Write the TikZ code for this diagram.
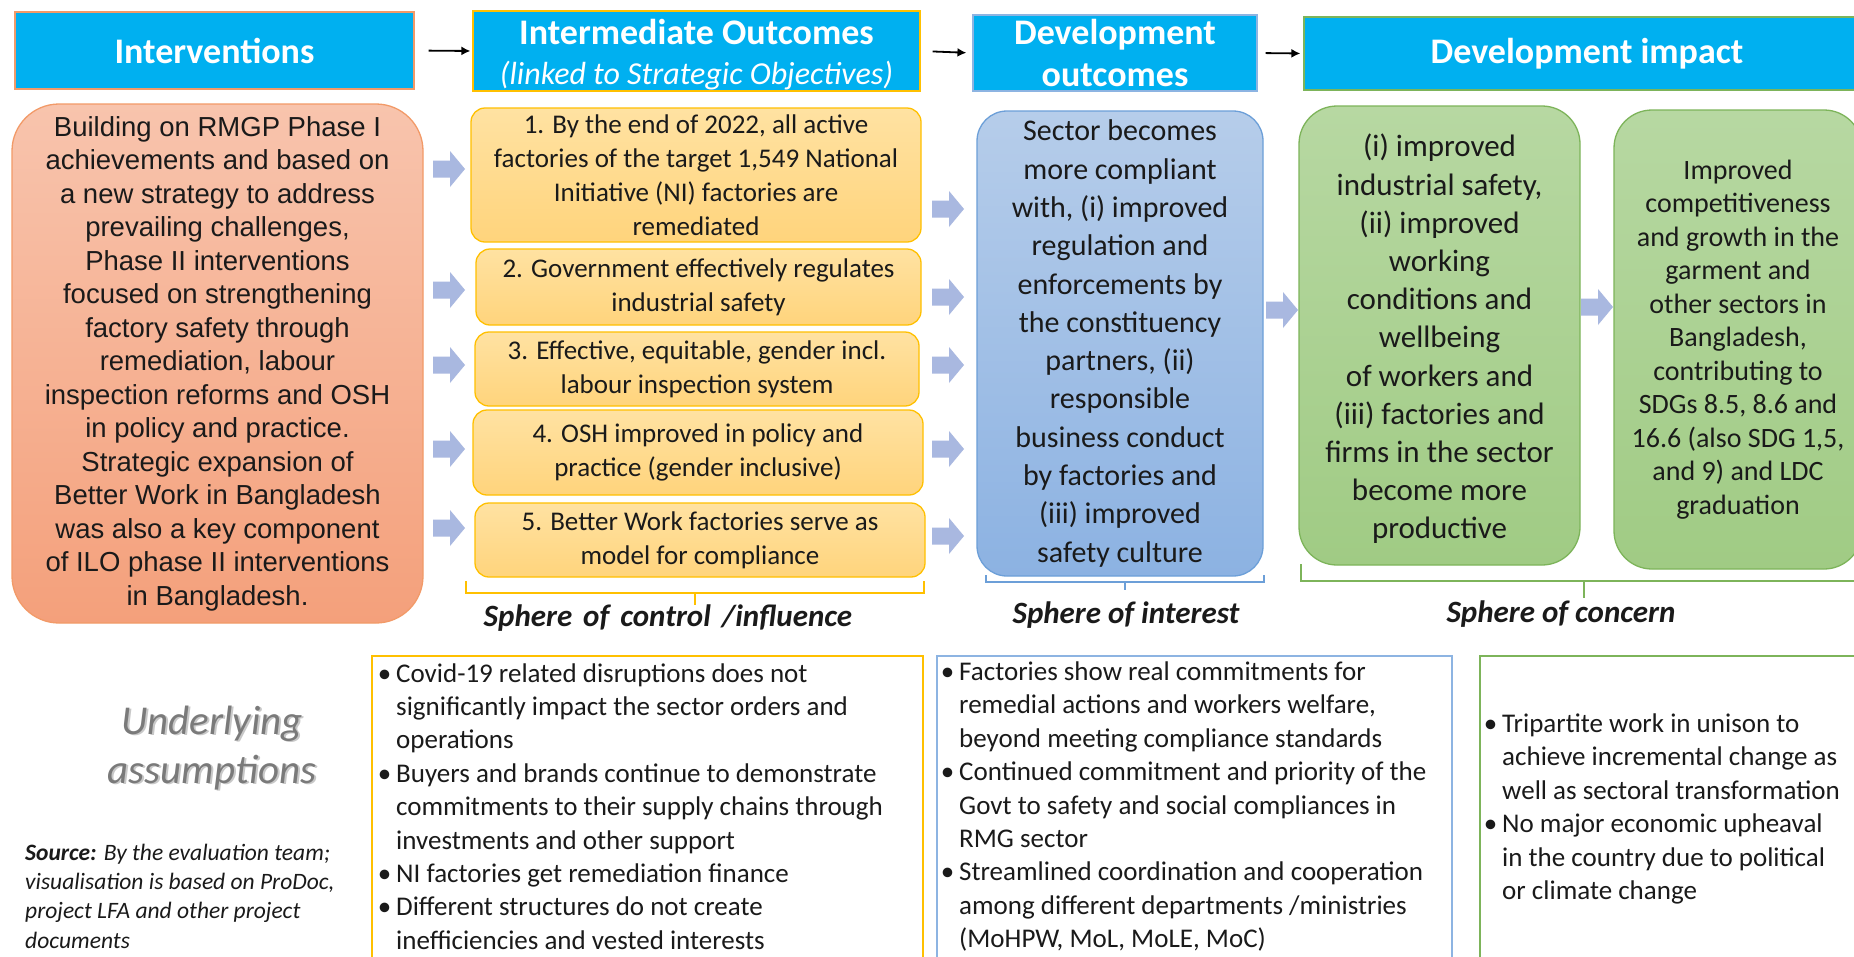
\documentclass[tikz,border=0pt]{standalone}
\usepackage{fontspec}
\setmainfont{Carlito}
\newfontfamily\arialfont{Liberation Sans}
\usetikzlibrary{arrows.meta}

\definecolor{hdrcyan}{HTML}{00B0F0}
\definecolor{blkarrow}{HTML}{A9B8E0}
\definecolor{salmontop}{HTML}{F8C4AD}
\definecolor{salmonbot}{HTML}{F4A07B}
\definecolor{salmonline}{HTML}{F29A68}
\definecolor{goldline}{HTML}{FFC000}
\definecolor{goldtop}{HTML}{FFE2A2}
\definecolor{goldbot}{HTML}{FFD47C}
\definecolor{bluetop}{HTML}{B6CDEA}
\definecolor{bluebot}{HTML}{8CB2E2}
\definecolor{blueline}{HTML}{6C9FD8}
\definecolor{greentop}{HTML}{B7D8A2}
\definecolor{greenbot}{HTML}{A0CB84}
\definecolor{greenline}{HTML}{7DB45A}
\definecolor{lightblueline}{HTML}{8DB4E2}
\definecolor{txt}{HTML}{1A1A1A}
\definecolor{assumgray}{HTML}{7A7A7A}
\definecolor{assumshadow}{HTML}{C8C8C8}

\newcommand\fsz[2]{\fontsize{#1}{#2}\selectfont}

\begin{document}
\begin{tikzpicture}[x=1pt,y=-1pt,
  hdr/.style={rectangle, fill=hdrcyan, text=white, inner sep=0pt, align=center,
    line width=1.2pt, font=\fsz{36}{42}\bfseries},
  interbox/.style={rectangle, rounded corners=47pt, draw=salmonline, line width=1.3pt,
    top color=salmontop, bottom color=salmonbot, inner sep=0pt, align=center,
    text=txt, font=\arialfont\fsz{27.5}{33.5}},
  ybox/.style={rectangle, rounded corners=14pt, draw=goldline, line width=1.3pt,
    top color=goldtop, bottom color=goldbot, inner sep=0pt, align=center,
    text=txt, font=\fsz{27}{34}},
  bbox/.style={rectangle, rounded corners=30pt, draw=blueline, line width=1.3pt,
    top color=bluetop, bottom color=bluebot, inner sep=0pt, align=center,
    text=txt, font=\fsz{30}{38.3}},
  gbox/.style={rectangle, rounded corners=38pt, draw=greenline, line width=1.3pt,
    top color=greentop, bottom color=greenbot, inner sep=0pt, align=center,
    text=txt},
  harrow/.style={-{Latex[length=9pt,width=9pt]}, line width=1.8pt, black},
  brace/.style={line width=2.4pt},
  sphere/.style={font=\fsz{31}{36}\bfseries\itshape, text=txt, inner sep=0pt},
  assum/.style={rectangle, line width=1.3pt},
  assumtxt/.style={anchor=west, align=left, inner sep=0pt, text=txt, font=\fsz{27}{33.4}},
  blockarrow/.pic={\fill[blkarrow] (-16,-8.5) -- (1,-8.5) -- (1,-18) -- (16,0)
    -- (1,18) -- (1,8.5) -- (-16,8.5) -- cycle;}
]
\useasboundingbox (0,0) rectangle (1854,956);
\clip (0,0) rectangle (1854,956);
\fill[white] (0,0) rectangle (1854,956);

% ---------- column headers ----------
\node[hdr, draw=salmonline, minimum width=399pt, minimum height=77pt] (h1) at (214.5,50.5) {Interventions};
\node[hdr, draw=goldline, minimum width=447pt, minimum height=80pt] (h2) at (696.5,51) {};
\node[text=white, align=center, inner sep=0pt, font=\fsz{36}{40}\bfseries] (h2t) at (696.5,55)
  {Intermediate Outcomes\\{\mdseries\itshape\fsz{32}{40}(linked to Strategic Objectives)}};
\node[hdr, draw=lightblueline, minimum width=284pt, minimum height=76pt] (h3) at (1115,53) {Development\\outcomes};
\node[hdr, draw=greenline, minimum width=566pt, minimum height=73pt] (h4) at (1587,53.5) {Development impact};

\draw[harrow, shorten <=14pt, shorten >=2pt] (h1.east) -- (h2.west);
\draw[harrow, shorten <=12pt, shorten >=6pt] (h2.east) -- (h3.west);
\draw[harrow, shorten <=8pt, shorten >=3pt] (h3.east) -- (h4.west);

% ---------- interventions ----------
\node[interbox, minimum width=411pt, minimum height=519pt] (interv) at (217.5,363.5)
  {Building on RMGP Phase I\\achievements and based on\\a new strategy to address\\prevailing challenges,\\Phase II interventions\\focused on strengthening\\factory safety through\\remediation, labour\\inspection reforms and OSH\\in policy and practice.\\Strategic expansion of\\Better Work in Bangladesh\\was also a key component\\of ILO phase II interventions\\in Bangladesh.};

% ---------- intermediate outcomes ----------
\node[ybox, minimum width=450pt, minimum height=134pt] (io1) at (696,175)
  {1. By the end of 2022, all active\\factories of the target 1,549 National\\Initiative (NI) factories are\\remediated};
\node[ybox, minimum width=445pt, minimum height=76pt] (io2) at (698.5,287)
  {2. Government effectively regulates\\industrial safety};
\node[ybox, minimum width=444pt, minimum height=74pt] (io3) at (697,369)
  {3. Effective, equitable, gender incl.\\labour inspection system};
\node[ybox, minimum width=450pt, minimum height=85pt] (io4) at (698,452.5)
  {4. OSH improved in policy and\\practice (gender inclusive)};
\node[ybox, minimum width=450pt, minimum height=74pt] (io5) at (700,540)
  {5. Better Work factories serve as\\model for compliance};

% ---------- development outcomes ----------
\node[bbox, minimum width=286pt, minimum height=465pt] (devout) at (1120,343.5)
  {Sector becomes\\more compliant\\with, (i) improved\\regulation and\\enforcements by\\the constituency\\partners, (ii)\\responsible\\business conduct\\by factories and\\(iii) improved\\safety culture};

% ---------- development impact ----------
\node[gbox, minimum width=281pt, minimum height=459pt] (imp1) at (1439.5,335.5) {};
\node[align=center, inner sep=0pt, text=txt, font=\fsz{31}{38.2}] (imp1t) at (1439.5,339)
  {(i) improved\\industrial safety,\\(ii) improved\\working\\conditions and\\wellbeing\\of workers and\\(iii) factories and\\firms in the sector\\become more\\productive};
\node[gbox, font=\fsz{28}{33.5}, minimum width=248pt, minimum height=459pt] (imp2) at (1738,339.5)
  {Improved\\competitiveness\\and growth in the\\garment and\\other sectors in\\Bangladesh,\\contributing to\\SDGs 8.5, 8.6 and\\16.6 (also SDG 1,5,\\and 9) and LDC\\graduation};

% ---------- block arrows ----------
\foreach \y in {169,290,365,449,528} \pic at (449,\y) {blockarrow};
\foreach \y in {209,297,365,449,536} \pic at (948,\y) {blockarrow};
\pic at (1282,310) {blockarrow};
\pic at (1597,307) {blockarrow};

% ---------- spheres ----------
\draw[brace, goldline] (466,581) -- (466,593) -- (924,593) -- (924,581);
\draw[brace, goldline] (695,593) -- (695,605);
\draw[brace, blueline] (986,575) -- (986,582) -- (1264,582) -- (1264,575);
\draw[brace, blueline] (1125,582) -- (1125,590);
\draw[brace, greenline] (1301,564) -- (1301,581) -- (1870,581);
\draw[brace, greenline] (1584,581) -- (1584,598);

\node[sphere] (sph1) at (668,618) {Sphere\hspace{4pt} of\hspace{4pt} control\hspace{4pt} /influence};
\node[sphere] (sph2) at (1126,615) {Sphere of interest};
\node[sphere] (sph3) at (1561,614) {Sphere of concern};

% ---------- underlying assumptions ----------
\node[align=center, inner sep=0pt, text=assumshadow, font=\fsz{41}{49}\itshape] (uashadow) at (214,749.5)
  {Underlying\\assumptions};
\node[align=center, inner sep=0pt, text=assumgray, font=\fsz{41}{49}\itshape] (ua) at (212,748)
  {Underlying\\assumptions};
\node[align=left, anchor=west, inner sep=0pt, text=txt, font=\fsz{23.5}{29.3}\itshape] (src) at (25,896)
  {{\bfseries Source:} By the evaluation team;\\visualisation is based on ProDoc,\\project LFA and other project\\documents};

\draw[assum, draw=goldline] (372,970) -- (372,656) -- (923,656) -- (923,970);
\draw[assum, draw=lightblueline] (937,970) -- (937,656) -- (1452,656) -- (1452,970);
\draw[assum, draw=greenline] (1480,970) -- (1480,656) -- (1870,656);

\node[assumtxt] (a1) at (396,806.5)
  {\llap{\textbullet\hspace{5pt}}Covid-19 related disruptions does not\\
   significantly impact the sector orders and\\
   operations\\
   \llap{\textbullet\hspace{5pt}}Buyers and brands continue to demonstrate\\
   commitments to their supply chains through\\
   investments and other support\\
   \llap{\textbullet\hspace{5pt}}NI factories get remediation finance\\
   \llap{\textbullet\hspace{5pt}}Different structures do not create\\
   inefficiencies and vested interests};
\node[assumtxt] (a2) at (959,806.5)
  {\llap{\textbullet\hspace{5pt}}Factories show real commitments for\\
   remedial actions and workers welfare,\\
   beyond meeting compliance standards\\
   \llap{\textbullet\hspace{5pt}}Continued commitment and priority of the\\
   Govt to safety and social compliances in\\
   RMG sector\\
   \llap{\textbullet\hspace{5pt}}Streamlined coordination and cooperation\\
   among different departments /ministries\\
   (MoHPW, MoL, MoLE, MoC)};
\node[assumtxt] (a3) at (1502,809)
  {\llap{\textbullet\hspace{5pt}}Tripartite work in unison to\\
   achieve incremental change as\\
   well as sectoral transformation\\
   \llap{\textbullet\hspace{5pt}}No major economic upheaval\\
   in the country due to political\\
   or climate change};
\end{tikzpicture}
\end{document}
